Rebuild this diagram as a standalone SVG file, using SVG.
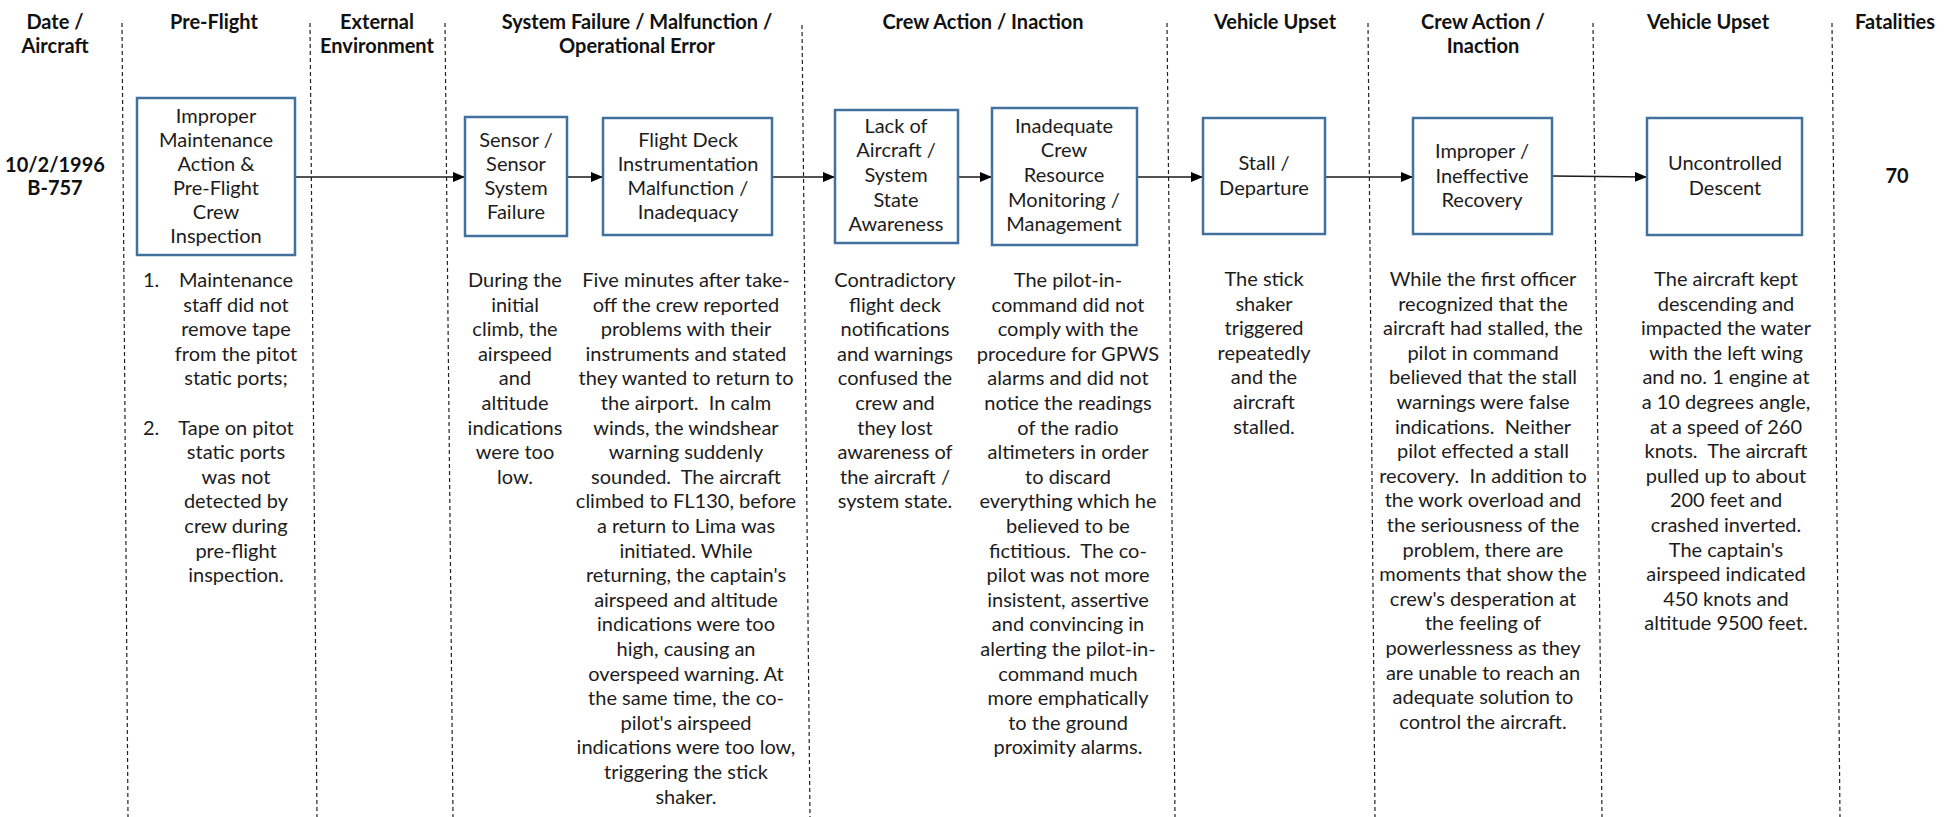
<svg xmlns="http://www.w3.org/2000/svg" width="1955" height="817" viewBox="0 0 1955 817">
<style>
.hd{font-family:Lato,"Liberation Sans",sans-serif;font-weight:bold;font-size:20px;fill:#111;text-anchor:middle}
.bx{font-family:Lato,"Liberation Sans",sans-serif;font-size:20px;fill:#1c1c1c;text-anchor:middle}
.tx{font-family:Lato,"Liberation Sans",sans-serif;font-size:20px;fill:#1c1c1c;text-anchor:middle}
.node rect{fill:#fff;stroke:#41719c;stroke-width:2.5}
.sep{stroke:#222;stroke-width:1.2;stroke-dasharray:4 3;fill:none}
.conn{stroke:#1a1a1a;stroke-width:1.6;fill:none;marker-end:url(#ah)}
</style>
<defs>
<marker id="ah" markerWidth="12" markerHeight="10" refX="12" refY="5" orient="auto" markerUnits="userSpaceOnUse">
<path d="M0,0 L12,5 L0,10 Z" fill="#000"/>
</marker>
</defs>
<rect width="1955" height="817" fill="#fff"/>
<g id="separators">
<line class="sep" x1="122" y1="23" x2="128" y2="817"/>
<line class="sep" x1="310" y1="23" x2="317" y2="817"/>
<line class="sep" x1="445" y1="23" x2="453" y2="817"/>
<line class="sep" x1="802" y1="25" x2="810" y2="817"/>
<line class="sep" x1="1167" y1="23" x2="1175" y2="817"/>
<line class="sep" x1="1368" y1="23" x2="1375" y2="817"/>
<line class="sep" x1="1593" y1="23" x2="1602" y2="817"/>
<line class="sep" x1="1832" y1="23" x2="1840" y2="817"/>
</g>
<g id="headers">
<text class="hd" x="55" y="29">Date /</text>
<text class="hd" x="55" y="53">Aircraft</text>
<text class="hd" x="214" y="29">Pre-Flight</text>
<text class="hd" x="377" y="29">External</text>
<text class="hd" x="377" y="53">Environment</text>
<text class="hd" x="637" y="29">System Failure / Malfunction /</text>
<text class="hd" x="637" y="53">Operational Error</text>
<text class="hd" x="983" y="29">Crew Action / Inaction</text>
<text class="hd" x="1275" y="29">Vehicle Upset</text>
<text class="hd" x="1483" y="29">Crew Action /</text>
<text class="hd" x="1483" y="53">Inaction</text>
<text class="hd" x="1708" y="29">Vehicle Upset</text>
<text class="hd" x="1895" y="29">Fatalities</text>
<text class="hd" x="55" y="172">10/2/1996</text>
<text class="hd" x="55" y="195">B-757</text>
<text class="hd" x="1897" y="183">70</text>
</g>
<g id="connectors">
<line class="conn" x1="295" y1="177" x2="465" y2="177"/>
<line class="conn" x1="567" y1="177" x2="603" y2="177"/>
<line class="conn" x1="772" y1="177" x2="835" y2="177"/>
<line class="conn" x1="958" y1="177" x2="992" y2="177"/>
<line class="conn" x1="1137" y1="177" x2="1203" y2="177"/>
<line class="conn" x1="1325" y1="177" x2="1413" y2="177"/>
<line class="conn" x1="1552" y1="176" x2="1647" y2="177"/>
</g>
<g id="n1" class="node">
<rect x="137" y="98" width="158" height="157"/>
<text class="bx" x="216" y="123">Improper</text>
<text class="bx" x="216" y="147">Maintenance</text>
<text class="bx" x="216" y="171">Action &amp;</text>
<text class="bx" x="216" y="195">Pre-Flight</text>
<text class="bx" x="216" y="219">Crew</text>
<text class="bx" x="216" y="243">Inspection</text>
</g>
<g id="n2" class="node">
<rect x="465" y="117" width="102" height="119"/>
<text class="bx" x="516" y="147">Sensor /</text>
<text class="bx" x="516" y="171">Sensor</text>
<text class="bx" x="516" y="195">System</text>
<text class="bx" x="516" y="219">Failure</text>
</g>
<g id="n3" class="node">
<rect x="603" y="118" width="169" height="117"/>
<text class="bx" x="688" y="147">Flight Deck</text>
<text class="bx" x="688" y="171">Instrumentation</text>
<text class="bx" x="688" y="195">Malfunction /</text>
<text class="bx" x="688" y="219">Inadequacy</text>
</g>
<g id="n4" class="node">
<rect x="835" y="110" width="123" height="133"/>
<text class="bx" x="896" y="133">Lack of</text>
<text class="bx" x="896" y="157">Aircraft /</text>
<text class="bx" x="896" y="182">System</text>
<text class="bx" x="896" y="207">State</text>
<text class="bx" x="896" y="231">Awareness</text>
</g>
<g id="n5" class="node">
<rect x="992" y="108" width="145" height="137"/>
<text class="bx" x="1064" y="133">Inadequate</text>
<text class="bx" x="1064" y="157">Crew</text>
<text class="bx" x="1064" y="182">Resource</text>
<text class="bx" x="1064" y="207">Monitoring /</text>
<text class="bx" x="1064" y="231">Management</text>
</g>
<g id="n6" class="node">
<rect x="1203" y="118" width="122" height="116"/>
<text class="bx" x="1264" y="170">Stall /</text>
<text class="bx" x="1264" y="195">Departure</text>
</g>
<g id="n7" class="node">
<rect x="1413" y="118" width="139" height="116"/>
<text class="bx" x="1482" y="158">Improper /</text>
<text class="bx" x="1482" y="183">Ineffective</text>
<text class="bx" x="1482" y="207">Recovery</text>
</g>
<g id="n8" class="node">
<rect x="1647" y="118" width="155" height="117"/>
<text class="bx" x="1725" y="170">Uncontrolled</text>
<text class="bx" x="1725" y="195">Descent</text>
</g>
<g id="descriptions">
<text class="tx" x="143" y="287" style="text-anchor:start">1.</text>
<text class="tx" x="236" y="287">Maintenance</text>
<text class="tx" x="236" y="312">staff did not</text>
<text class="tx" x="236" y="336">remove tape</text>
<text class="tx" x="236" y="361">from the pitot</text>
<text class="tx" x="236" y="385">static ports;</text>
<text class="tx" x="143" y="435" style="text-anchor:start">2.</text>
<text class="tx" x="236" y="435">Tape on pitot</text>
<text class="tx" x="236" y="459">static ports</text>
<text class="tx" x="236" y="484">was not</text>
<text class="tx" x="236" y="508">detected by</text>
<text class="tx" x="236" y="533">crew during</text>
<text class="tx" x="236" y="558">pre-flight</text>
<text class="tx" x="236" y="582">inspection.</text>

<text class="tx" x="515" y="287">During the</text>
<text class="tx" x="515" y="312">initial</text>
<text class="tx" x="515" y="336">climb, the</text>
<text class="tx" x="515" y="361">airspeed</text>
<text class="tx" x="515" y="385">and</text>
<text class="tx" x="515" y="410">altitude</text>
<text class="tx" x="515" y="435">indications</text>
<text class="tx" x="515" y="459">were too</text>
<text class="tx" x="515" y="484">low.</text>

<text class="tx" x="686" y="287">Five minutes after take-</text>
<text class="tx" x="686" y="312">off the crew reported</text>
<text class="tx" x="686" y="336">problems with their</text>
<text class="tx" x="686" y="361">instruments and stated</text>
<text class="tx" x="686" y="385">they wanted to return to</text>
<text class="tx" x="686" y="410" xml:space="preserve">the airport.  In calm</text>
<text class="tx" x="686" y="435">winds, the windshear</text>
<text class="tx" x="686" y="459">warning suddenly</text>
<text class="tx" x="686" y="484" xml:space="preserve">sounded.  The aircraft</text>
<text class="tx" x="686" y="508">climbed to FL130, before</text>
<text class="tx" x="686" y="533">a return to Lima was</text>
<text class="tx" x="686" y="558">initiated. While</text>
<text class="tx" x="686" y="582">returning, the captain's</text>
<text class="tx" x="686" y="607">airspeed and altitude</text>
<text class="tx" x="686" y="631">indications were too</text>
<text class="tx" x="686" y="656">high, causing an</text>
<text class="tx" x="686" y="681">overspeed warning. At</text>
<text class="tx" x="686" y="705">the same time, the co-</text>
<text class="tx" x="686" y="730">pilot's airspeed</text>
<text class="tx" x="686" y="754">indications were too low,</text>
<text class="tx" x="686" y="779">triggering the stick</text>
<text class="tx" x="686" y="804">shaker.</text>

<text class="tx" x="895" y="287">Contradictory</text>
<text class="tx" x="895" y="312">flight deck</text>
<text class="tx" x="895" y="336">notifications</text>
<text class="tx" x="895" y="361">and warnings</text>
<text class="tx" x="895" y="385">confused the</text>
<text class="tx" x="895" y="410">crew and</text>
<text class="tx" x="895" y="435">they lost</text>
<text class="tx" x="895" y="459">awareness of</text>
<text class="tx" x="895" y="484">the aircraft /</text>
<text class="tx" x="895" y="508">system state.</text>

<text class="tx" x="1068" y="287">The pilot-in-</text>
<text class="tx" x="1068" y="312">command did not</text>
<text class="tx" x="1068" y="336">comply with the</text>
<text class="tx" x="1068" y="361">procedure for GPWS</text>
<text class="tx" x="1068" y="385">alarms and did not</text>
<text class="tx" x="1068" y="410">notice the readings</text>
<text class="tx" x="1068" y="435">of the radio</text>
<text class="tx" x="1068" y="459">altimeters in order</text>
<text class="tx" x="1068" y="484">to discard</text>
<text class="tx" x="1068" y="508">everything which he</text>
<text class="tx" x="1068" y="533">believed to be</text>
<text class="tx" x="1068" y="558" xml:space="preserve">fictitious.  The co-</text>
<text class="tx" x="1068" y="582">pilot was not more</text>
<text class="tx" x="1068" y="607">insistent, assertive</text>
<text class="tx" x="1068" y="631">and convincing in</text>
<text class="tx" x="1068" y="656">alerting the pilot-in-</text>
<text class="tx" x="1068" y="681">command much</text>
<text class="tx" x="1068" y="705">more emphatically</text>
<text class="tx" x="1068" y="730">to the ground</text>
<text class="tx" x="1068" y="754">proximity alarms.</text>

<text class="tx" x="1264" y="286">The stick</text>
<text class="tx" x="1264" y="311">shaker</text>
<text class="tx" x="1264" y="335">triggered</text>
<text class="tx" x="1264" y="360">repeatedly</text>
<text class="tx" x="1264" y="384">and the</text>
<text class="tx" x="1264" y="409">aircraft</text>
<text class="tx" x="1264" y="434">stalled.</text>

<text class="tx" x="1483" y="286">While the first officer</text>
<text class="tx" x="1483" y="311">recognized that the</text>
<text class="tx" x="1483" y="335">aircraft had stalled, the</text>
<text class="tx" x="1483" y="360">pilot in command</text>
<text class="tx" x="1483" y="384">believed that the stall</text>
<text class="tx" x="1483" y="409">warnings were false</text>
<text class="tx" x="1483" y="434" xml:space="preserve">indications.  Neither</text>
<text class="tx" x="1483" y="458">pilot effected a stall</text>
<text class="tx" x="1483" y="483" xml:space="preserve">recovery.  In addition to</text>
<text class="tx" x="1483" y="507">the work overload and</text>
<text class="tx" x="1483" y="532">the seriousness of the</text>
<text class="tx" x="1483" y="557">problem, there are</text>
<text class="tx" x="1483" y="581">moments that show the</text>
<text class="tx" x="1483" y="606">crew's desperation at</text>
<text class="tx" x="1483" y="630">the feeling of</text>
<text class="tx" x="1483" y="655">powerlessness as they</text>
<text class="tx" x="1483" y="680">are unable to reach an</text>
<text class="tx" x="1483" y="704">adequate solution to</text>
<text class="tx" x="1483" y="729">control the aircraft.</text>

<text class="tx" x="1726" y="286">The aircraft kept</text>
<text class="tx" x="1726" y="311">descending and</text>
<text class="tx" x="1726" y="335">impacted the water</text>
<text class="tx" x="1726" y="360">with the left wing</text>
<text class="tx" x="1726" y="384">and no. 1 engine at</text>
<text class="tx" x="1726" y="409">a 10 degrees angle,</text>
<text class="tx" x="1726" y="434">at a speed of 260</text>
<text class="tx" x="1726" y="458" xml:space="preserve">knots.  The aircraft</text>
<text class="tx" x="1726" y="483">pulled up to about</text>
<text class="tx" x="1726" y="507">200 feet and</text>
<text class="tx" x="1726" y="532">crashed inverted.</text>
<text class="tx" x="1726" y="557">The captain's</text>
<text class="tx" x="1726" y="581">airspeed indicated</text>
<text class="tx" x="1726" y="606">450 knots and</text>
<text class="tx" x="1726" y="630">altitude 9500 feet.</text>
</g>
</svg>
